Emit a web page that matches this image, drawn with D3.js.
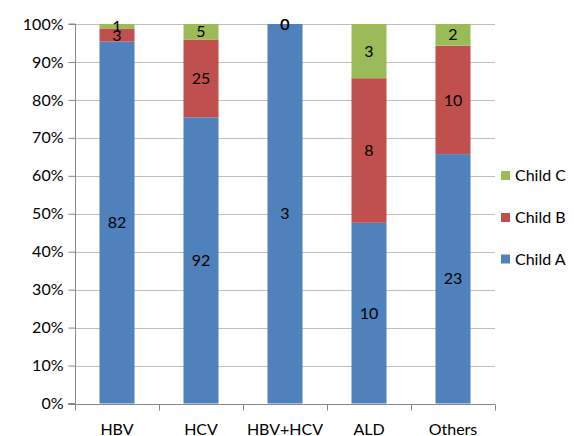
<!DOCTYPE html>
<html><head><meta charset="utf-8">
<script src="https://cdn.jsdelivr.net/npm/d3@7"></script>
<style>body{margin:0;background:#fff}svg{display:block}text{font-family:Lato,"Open Sans",sans-serif}</style>
</head><body><svg id="c" width="574" height="436"></svg>
<script>
const categories = ["HBV","HCV","HBV+HCV","ALD","Others"];
const seriesNames = ["Child A","Child B","Child C"];
const childA = [82,92,3,10,23];
const childB = [3,25,0,8,10];
const childC = [1,5,0,3,2];
const yTicks = [0,0.1,0.2,0.3,0.4,0.5,0.6,0.7,0.8,0.9,1];
const colors = ["#4F81BD","#C0504D","#9BBB59"];

const svg = d3.select("#c");
const m = {l:75, r:495, t:24, b:403.5};
const x = d3.scaleBand().domain(categories).range([m.l,m.r]).paddingInner(0).paddingOuter(0);
const y = d3.scaleLinear().domain([0,1]).range([m.b,m.t]);
const fs = 16;

// gridlines
svg.append("g").selectAll("line").data(yTicks.filter(d=>d>0)).join("line")
  .attr("x1",m.l).attr("x2",m.r).attr("y1",d=>Math.round(y(d))+0.5).attr("y2",d=>Math.round(y(d))+0.5)
  .attr("stroke","#BFBFBF").attr("stroke-width",1);

const rows = categories.map((c,i)=>({cat:c, vals:[childA[i],childB[i],childC[i]]}));
const bw = 35;
rows.forEach(r=>{
  const tot = d3.sum(r.vals);
  let acc = 0;
  r.vals.forEach((v,k)=>{
    const y0 = acc/tot, y1 = (acc+v)/tot; acc += v;
    const cx = x(r.cat)+x.bandwidth()/2;
    if (v>0) svg.append("rect").attr("x",cx-bw/2).attr("width",bw)
      .attr("y",y(y1)).attr("height",y(y0)-y(y1)).attr("fill",colors[k]);
  });
});
// axes
const ya = svg.append("g").attr("transform",`translate(${m.l+0.5},0)`)
  .call(d3.axisLeft(y).tickValues(yTicks).tickFormat(d3.format(".0%")).tickSize(7).tickPadding(5));
ya.select(".domain").attr("stroke","#868686").attr("d",`M-7,${m.t}H0V${m.b}H-7`);
ya.selectAll(".tick line").attr("stroke","#868686");
ya.selectAll("text").attr("font-size",fs).attr("fill","#000").style("font-family","Lato,sans-serif");

const xa = svg.append("g").attr("transform",`translate(0,${Math.round(m.b)+0.5})`);
xa.append("line").attr("x1",m.l-7).attr("x2",m.r).attr("stroke","#868686");
const bounds = categories.map(c=>x(c)).concat([m.r]);
xa.selectAll("line.t").data(bounds).join("line").attr("class","t")
  .attr("x1",d=>Math.round(d)+0.5).attr("x2",d=>Math.round(d)+0.5).attr("y1",0).attr("y2",6).attr("stroke","#868686");
xa.selectAll("text").data(categories).join("text")
  .attr("x",d=>x(d)+x.bandwidth()/2).attr("y",30).attr("text-anchor","middle")
  .attr("font-size",fs).text(d=>d);

// data labels
rows.forEach(r=>{
  const tot = d3.sum(r.vals);
  let acc = 0;
  r.vals.forEach((v,k)=>{
    const y0 = acc/tot, y1 = (acc+v)/tot; acc += v;
    const cx = x(r.cat)+x.bandwidth()/2;
    svg.append("text").attr("x",cx).attr("y",(y(y0)+y(y1))/2).attr("dy","0.35em")
      .attr("text-anchor","middle").attr("font-size",fs).attr("fill","#000").text(v);
  });
});

// legend
const lg = svg.append("g");
const legY = [259,217.5,175.5];
seriesNames.forEach((s,k)=>{
  lg.append("rect").attr("x",501).attr("y",legY[k]-4.5).attr("width",9).attr("height",9).attr("fill",colors[k]);
  lg.append("text").attr("x",515).attr("y",legY[k]).attr("dy","0.35em").attr("font-size",fs).text(s);
});
</script></body></html>
